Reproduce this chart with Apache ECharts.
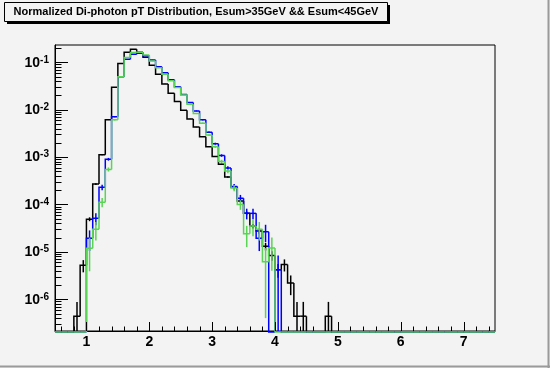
<!DOCTYPE html>
<html><head><meta charset="utf-8">
<script src="https://cdn.jsdelivr.net/npm/echarts@6/dist/echarts.min.js"></script>
<style>html,body{margin:0;padding:0;background:#f3f3f3;}#c{width:550px;height:368px;}</style>
</head><body><div id="c"></div>
<script>
// ---- data (histogram bins: low edges, width 0.1) ----
const binLowEdges = [0.5,0.6,0.7,0.8,0.9,1.0,1.1,1.2,1.3,1.4,1.5,1.6,1.7,1.8,1.9,2.0,2.1,2.2,2.3,2.4,2.5,2.6,2.7,2.8,2.9,3.0,3.1,3.2,3.3,3.4,3.5,3.6,3.7,3.8,3.9,4.0,4.1,4.2,4.3,4.4,4.5,4.6,4.7,4.8,4.9,5.0,5.1,5.2,5.3,5.4,5.5,5.6,5.7,5.8,5.9,6.0,6.1,6.2,6.3,6.4,6.5,6.6,6.7,6.8,6.9,7.0,7.1,7.2,7.3,7.4];
const binWidth = 0.1;

const blackValues = [0,0,0,4.4e-7,5.2e-6,4.9e-5,2.7e-4,1.12e-3,6.1e-3,0.0297,0.094,0.162,0.188,0.162,0.128,0.087,0.056,0.035,0.0222,0.0148,0.0097,0.0064,0.0043,0.0027,0.00165,0.00103,0.00071,0.00038,0.000234,0.000119,6.5e-5,3.5e-5,2.75e-5,1.31e-5,8.4e-6,4.2e-6,5.4e-6,2.2e-6,4.4e-7,4.4e-7,0,0,0,4.4e-7,0,
  0,0,0,0,0,0,0,0,0,0,0,0,0,0,0,0,0,0,0,0,0,0,0,0,0];
const blackErrors = [0,0,0,4.4e-7,1.5e-6,4.6e-6,1.1e-5,2.2e-5,5.2e-5,1.14e-4,2.0e-4,2.7e-4,2.9e-4,2.7e-4,2.4e-4,1.96e-4,1.57e-4,1.24e-4,9.9e-5,8.1e-5,6.5e-5,5.3e-5,4.3e-5,3.4e-5,2.7e-5,2.1e-5,1.77e-5,1.29e-5,1.01e-5,7.2e-6,5.3e-6,3.9e-6,3.5e-6,2.4e-6,1.9e-6,1.36e-6,1.54e-6,9.8e-7,4.4e-7,4.4e-7,0,0,0,4.4e-7,0,
  0,0,0,0,0,0,0,0,0,0,0,0,0,0,0,0,0,0,0,0,0,0,0,0,0];

const blueValues = [0,0,0,0,0,1.94e-5,5.1e-5,2.3e-4,9.0e-4,7.1e-3,0.0497,0.116,0.148,0.155,0.138,0.112,0.081,0.060,0.043,0.0306,0.0209,0.0142,0.0094,0.0061,0.00333,0.00192,0.00108,0.00059,0.00024,0.000135,6.5e-5,6.5e-5,1.94e-5,2.67e-5,0,4.2e-6,0,0,0,0,0,0,0,0,0,
  0,0,0,0,0,0,0,0,0,0,0,0,0,0,0,0,0,0,0,0,0,0,0,0,0];
const blueErrors = [0,0,0,0,0,9.0e-6,1.46e-5,3.1e-5,6.1e-5,1.73e-4,4.6e-4,7.0e-4,7.9e-4,8.1e-4,7.6e-4,6.9e-4,5.8e-4,5.0e-4,4.25e-4,3.6e-4,2.96e-4,2.44e-4,1.99e-4,1.6e-4,1.18e-4,9.0e-5,6.7e-5,5.0e-5,3.2e-5,2.4e-5,1.65e-5,1.65e-5,9.0e-6,1.06e-5,0,4.2e-6,0,0,0,0,0,0,0,0,0,
  0,0,0,0,0,0,0,0,0,0,0,0,0,0,0,0,0,0,0,0,0,0,0,0,0];

const greenValues = [0,0,0,0,0,1.19e-5,3.0e-5,1.12e-4,5.5e-4,6.1e-3,0.0497,0.127,0.160,0.163,0.143,0.106,0.077,0.056,0.041,0.0294,0.0204,0.013,0.0083,0.0052,0.00292,0.00166,0.00081,0.00051,0.000224,0.0001,2.4e-5,3.5e-5,3.0e-5,6.2e-6,1.2e-5,0,0,0,0,0,0,0,0,0,0,
  0,0,0,0,0,0,0,0,0,0,0,0,0,0,0,0,0,0,0,0,0,0,0,0,0];
const greenErrors = [0,0,0,0,0,8.0e-6,1.27e-5,2.46e-5,5.4e-5,1.81e-4,5.2e-4,8.3e-4,9.3e-4,9.4e-4,8.8e-4,7.6e-4,6.4e-4,5.5e-4,4.7e-4,4.0e-4,3.3e-4,2.65e-4,2.1e-4,1.68e-4,1.26e-4,9.5e-5,6.6e-5,5.2e-5,3.5e-5,2.3e-5,1.14e-5,1.37e-5,1.27e-5,5.8e-6,8.0e-6,0,0,0,0,0,0,0,0,0,0,
  0,0,0,0,0,0,0,0,0,0,0,0,0,0,0,0,0,0,0,0,0,0,0,0,0];

const xTickLabels = [1,2,3,4,5,6,7];
const titleText = 'Normalized Di-photon pT Distribution, Esum>35GeV && Esum<45GeV';

// ---- axis ranges ----
const xMin = 0.5, xMax = 7.5;
const yMin = 2.14e-7, yMax = 0.2317;

const FONT = '"Liberation Sans", Arial, Helvetica, sans-serif';
const BG = '#f3f3f3';

function histData(vals, errs) {
  return binLowEdges.map((lo, i) => [lo, Math.max(vals[i], yMin), vals[i], errs[i], i > 0 ? vals[i-1] : 0, lo + binWidth, i === binLowEdges.length - 1 ? 1 : 0]);
}

function makeHistRender(color, lw) {
  return function (params, api) {
    const lo = api.value(0), v = api.value(2), e = api.value(3), pv = api.value(4), hi = api.value(5), last = api.value(6);
    const base = api.coord([lo, yMin]);
    const bottom = base[1] + 1;
    const py = val => val > 0 ? api.coord([lo, Math.max(val, yMin)])[1] : bottom;
    const xl = base[0], xh = api.coord([hi, yMin])[0];
    const yv = py(v), yp = py(pv);
    const pts = [[xl, yp], [xl, yv], [xh, yv]];
    if (last) pts.push([xh, bottom]);
    const children = [{ type: 'polyline', shape: { points: pts }, style: { stroke: color, lineWidth: lw, fill: null } }];
    if (v > 0 && e > 0) {
      const xc = (xl + xh) / 2;
      const yt = api.coord([lo, v + e])[1];
      const yb = (v - e) > yMin ? api.coord([lo, v - e])[1] : base[1];
      children.push({ type: 'line', shape: { x1: xc, y1: yt, x2: xc, y2: yb }, style: { stroke: color, lineWidth: lw } });
    }
    return { type: 'group', children };
  };
}

// tick positions (axis decoration)
const yTicks = [];
for (let d = -7; d <= 0; d++) for (let m = 1; m <= 9; m++) {
  const v = m * Math.pow(10, d);
  if (v >= yMin && v <= yMax) yTicks.push([xMin, v, m === 1 ? 1 : 0]);
}
const xTicks = [];
for (let k = 3; k <= 37; k++) xTicks.push([k / 5, yMin, k % 5 === 0 ? 1 : 0]);

const chart = echarts.init(document.getElementById('c'), null, { renderer: 'canvas' });
chart.setOption({
  animation: false,
  backgroundColor: BG,
  grid: { left: 55, right: 55, top: 45, bottom: 37, show: true, borderColor: '#000', borderWidth: 1, backgroundColor: BG, containLabel: false, outerBoundsMode: 'none' },
  xAxis: {
    type: 'value', min: xMin, max: xMax,
    axisLine: { show: true, onZero: false, lineStyle: { color: '#000', width: 1 } },
    axisTick: { show: false }, splitLine: { show: false },
    axisLabel: { customValues: xTickLabels, color: '#000', fontSize: 14, fontWeight: 'bold', fontFamily: FONT, margin: 4 }
  },
  yAxis: {
    type: 'log', logBase: 10, min: yMin, max: yMax,
    axisLine: { show: true, lineStyle: { color: '#000', width: 1 } },
    axisTick: { show: false }, splitLine: { show: false },
    axisLabel: {
      margin: 6, color: '#000',
      formatter: function (v) {
        const l = Math.log10(v);
        if (Math.abs(l - Math.round(l)) < 1e-6) return '{b|10}{s|' + Math.round(l) + '}';
        return '';
      },
      rich: {
        b: { fontSize: 14, fontWeight: 'bold', fontFamily: FONT, color: '#000', lineHeight: 15, padding: [3, 0, 0, 0], verticalAlign: 'bottom' },
        s: { fontSize: 10, fontWeight: 'bold', fontFamily: FONT, color: '#000', lineHeight: 11, verticalAlign: 'top' }
      }
    }
  },
  graphic: [
    { type: 'rect', shape: { x: 7, y: 5, width: 383, height: 19 }, style: { fill: '#000' }, z: 10 },
    { type: 'rect', shape: { x: 4.5, y: 2.5, width: 383, height: 19 }, style: { fill: BG, stroke: '#000', lineWidth: 1 }, z: 11 },
    { type: 'text', x: 196, y: 12, style: { text: titleText, fill: '#000', font: 'bold 11px ' + FONT, align: 'center', verticalAlign: 'middle' }, z: 12 },
    { type: 'line', shape: { x1: 548.5, y1: 0, x2: 548.5, y2: 368 }, style: { stroke: '#9a9a9a', lineWidth: 2 }, z: 10 },
    { type: 'line', shape: { x1: 0, y1: 366.5, x2: 550, y2: 366.5 }, style: { stroke: '#9a9a9a', lineWidth: 2 }, z: 10 }
  ],
  series: [
    { type: 'custom', name: 'black', data: histData(blackValues, blackErrors), encode: { x: 0, y: 1 }, renderItem: makeHistRender('#000000', 1.5), silent: true, z: 3 },
    { type: 'custom', name: 'blue', data: histData(blueValues, blueErrors), encode: { x: 0, y: 1 }, renderItem: makeHistRender('#0000ff', 1.5), silent: true, z: 4 },
    { type: 'custom', name: 'green', data: histData(greenValues, greenErrors), encode: { x: 0, y: 1 }, renderItem: makeHistRender('#59d454', 1.5), silent: true, z: 5 },
    { type: 'custom', name: 'yticks', data: yTicks, encode: { x: 0, y: 1 }, silent: true, z: 6,
      renderItem: function (params, api) {
        const p = api.coord([api.value(0), api.value(1)]);
        const len = api.value(2) ? 13 : 6.5;
        const y = Math.round(p[1]) + 0.5;
        return { type: 'line', shape: { x1: p[0], y1: y, x2: p[0] + len, y2: y }, style: { stroke: '#000', lineWidth: 1 } };
      } },
    { type: 'custom', name: 'xticks', data: xTicks, encode: { x: 0, y: 1 }, silent: true, z: 6,
      renderItem: function (params, api) {
        const p = api.coord([api.value(0), api.value(1)]);
        const len = api.value(2) ? 9 : 4.5;
        const x = Math.round(p[0]) + 0.5;
        return { type: 'line', shape: { x1: x, y1: p[1], x2: x, y2: p[1] - len }, style: { stroke: '#000', lineWidth: 1 } };
      } }
  ]
});
</script></body></html>
